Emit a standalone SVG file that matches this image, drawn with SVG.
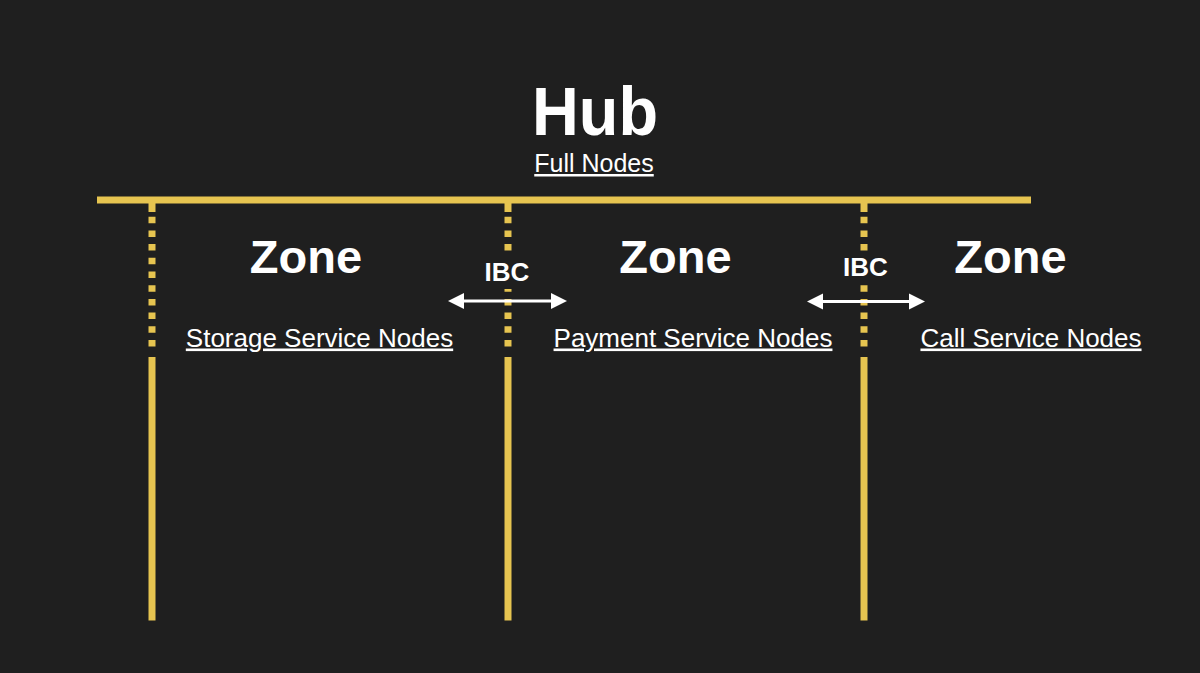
<svg xmlns="http://www.w3.org/2000/svg" width="1200" height="673" viewBox="0 0 1200 673">
  <defs>
    <style>
      .bar { stroke: #e6c450; stroke-width: 7; fill: none; }
      .dash { stroke: #e6c450; stroke-width: 7; fill: none; stroke-dasharray: 6.5 7.2; }
      .arrow { stroke: #ffffff; stroke-width: 3; fill: none; }
      .head { fill: #ffffff; }
      .title { font-family: "Liberation Sans", Arial, sans-serif; font-weight: bold; fill: #ffffff; text-anchor: middle; }
      .sub { font-family: "Liberation Sans", Arial, sans-serif; fill: #ffffff; text-anchor: middle; text-decoration: underline; }
    </style>
  </defs>
  <rect x="0" y="0" width="1200" height="673" fill="#1f1f1f"/>

  <g id="connectors">
    <line class="bar" x1="97" y1="200" x2="1031" y2="200"/>
    <!-- zone boundary 1 -->
    <line class="bar" x1="152" y1="200" x2="152" y2="212"/>
    <line class="dash" x1="152" y1="216.7" x2="152" y2="350"/>
    <line class="bar" x1="152" y1="357" x2="152" y2="620.5"/>
    <!-- zone boundary 2 -->
    <line class="bar" x1="508" y1="200" x2="508" y2="212"/>
    <line class="dash" x1="508" y1="216.7" x2="508" y2="350"/>
    <line class="bar" x1="508" y1="357" x2="508" y2="620.5"/>
    <!-- zone boundary 3 -->
    <line class="bar" x1="864" y1="200" x2="864" y2="212"/>
    <line class="dash" x1="864" y1="216.7" x2="864" y2="350"/>
    <line class="bar" x1="864" y1="357" x2="864" y2="620.5"/>
    <!-- label masks -->
    <rect x="496" y="251" width="24" height="38" fill="#1f1f1f"/>
    <rect x="852" y="251" width="24" height="33" fill="#1f1f1f"/>
    <!-- IBC arrows -->
    <line class="arrow" x1="460" y1="301" x2="556" y2="301"/>
    <polygon class="head" points="448,301 464,293 464,309"/>
    <polygon class="head" points="567,301 551,293 551,309"/>
    <line class="arrow" x1="819" y1="301.5" x2="914" y2="301.5"/>
    <polygon class="head" points="807,301.5 823,293.5 823,309.5"/>
    <polygon class="head" points="925,301.5 909,293.5 909,309.5"/>
  </g>

  <g id="hub">
    <text class="title" x="595" y="135" font-size="68" textLength="126" lengthAdjust="spacingAndGlyphs">Hub</text>
    <text class="sub" x="594" y="172" font-size="25">Full Nodes</text>
  </g>

  <g id="zone-storage">
    <text class="title" x="306" y="272.5" font-size="47">Zone</text>
    <text class="sub" x="319.5" y="346.5" font-size="26">Storage Service Nodes</text>
  </g>

  <g id="zone-payment">
    <text class="title" x="675.5" y="272.5" font-size="47">Zone</text>
    <text class="sub" x="693" y="346.5" font-size="26">Payment Service Nodes</text>
  </g>

  <g id="zone-call">
    <text class="title" x="1010.5" y="272.5" font-size="47">Zone</text>
    <text class="sub" x="1031" y="346.5" font-size="26">Call Service Nodes</text>
  </g>

  <g id="ibc-1">
    <text class="title" x="507" y="281" font-size="26">IBC</text>
  </g>
  <g id="ibc-2">
    <text class="title" x="865.5" y="276" font-size="26">IBC</text>
  </g>
</svg>
